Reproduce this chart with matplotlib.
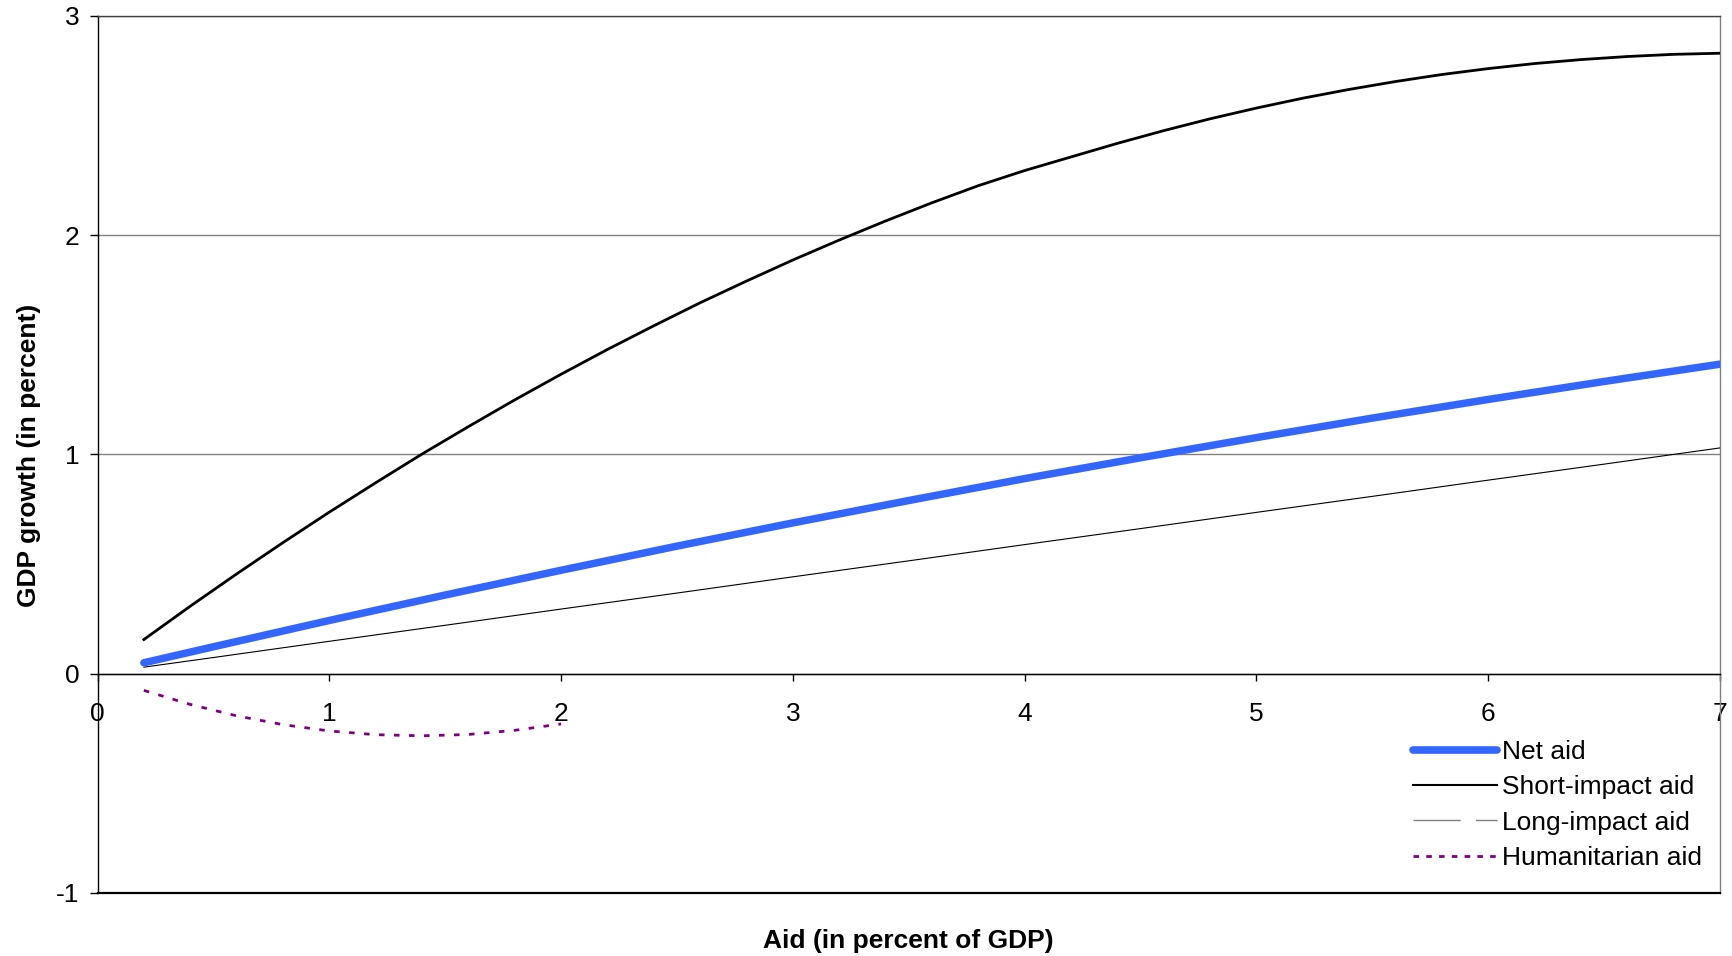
import matplotlib
matplotlib.use("Agg")
import matplotlib.pyplot as plt
from matplotlib.lines import Line2D

plt.rcParams["font.family"] = ["Liberation Sans", "DejaVu Sans"]
plt.rcParams["font.size"] = 19

# aid in percent of GDP
aid = [0.2, 0.5, 1.0, 1.5, 2.0, 2.5, 3.0, 3.5, 4.0, 4.5, 5.0, 5.5, 6.0, 6.5, 7.0]
net_aid = [0.05, 0.123, 0.243, 0.359, 0.472, 0.582, 0.688, 0.790, 0.890,
           0.985, 1.077, 1.166, 1.251, 1.333, 1.412]
long_impact = [0.03, 0.074, 0.148, 0.221, 0.295, 0.368, 0.442, 0.515, 0.589,
               0.662, 0.736, 0.809, 0.883, 0.956, 1.03]

aid_fine = [0.2, 0.4, 0.6, 0.8, 1.0, 1.2, 1.4, 1.6, 1.8, 2.0, 2.2, 2.4, 2.6,
            2.8, 3.0, 3.2, 3.4, 3.6, 3.8, 4.0, 4.2, 4.4, 4.6, 4.8, 5.0, 5.2,
            5.4, 5.6, 5.8, 6.0, 6.2, 6.4, 6.6, 6.8, 7.0]
short_impact = [0.156, 0.308, 0.455, 0.598, 0.737, 0.871, 1.002, 1.127,
                1.249, 1.366, 1.479, 1.587, 1.692, 1.791, 1.887, 1.978,
                2.065, 2.148, 2.226, 2.295, 2.357, 2.419, 2.477, 2.531,
                2.580, 2.625, 2.665, 2.701, 2.733, 2.760, 2.783, 2.801,
                2.815, 2.825, 2.830]

aid_hum = [0.2, 0.4, 0.6, 0.8, 1.0, 1.2, 1.4, 1.6, 1.8, 2.0]
humanitarian = [-0.076, -0.140, -0.192, -0.232, -0.261, -0.278, -0.283,
                -0.277, -0.258, -0.229]

x_ticks = [0, 1, 2, 3, 4, 5, 6, 7]
y_ticks = [-1, 0, 1, 2, 3]

BLUE = "#3366FF"
PURPLE = "#800080"


def main():
    fig = plt.figure(figsize=(17.32, 9.56), dpi=100)
    ax = fig.add_axes([0.0563, 0.0659, 0.9368, 0.9174])

    ax.plot(aid_fine, short_impact, color="black", lw=2.0, zorder=3)
    ax.plot(aid, long_impact, color="black", lw=0.8, zorder=3)
    ax.plot(aid_hum, humanitarian, color=PURPLE, lw=2.0,
            dashes=(2, 3.4), zorder=3)
    ax.plot(aid, net_aid, color=BLUE, lw=5.4, solid_capstyle="round",
            zorder=4)

    ax.set_xlim(0, 7)
    ax.set_ylim(-1, 3)
    ax.set_xticks(x_ticks)
    ax.set_yticks(y_ticks)
    ax.set_xticklabels([str(t) for t in x_ticks])
    ax.set_yticklabels([str(t) for t in y_ticks])

    ax.yaxis.grid(True, color="#808080", lw=1.0)
    ax.set_axisbelow(True)

    # x axis crosses at zero, frame around the plot area
    ax.spines["bottom"].set_position(("data", 0))
    ax.spines["bottom"].set_color("black")
    ax.spines["bottom"].set_linewidth(1.0)
    ax.spines["left"].set_color("black")
    ax.spines["left"].set_linewidth(1.0)
    ax.spines["top"].set_color("#404040")
    ax.spines["top"].set_linewidth(1.0)
    ax.spines["right"].set_color("#808080")
    ax.spines["right"].set_linewidth(1.0)
    ax.axhline(-1, color="black", lw=1.6, clip_on=False, zorder=5)

    ax.tick_params(axis="x", direction="out", length=5, width=1.0, pad=15.5,
                   labelsize=19)
    ax.tick_params(axis="y", direction="out", length=6, width=1.0, pad=7,
                   labelsize=19)

    fig.text(29 / 1732, 1 - 455 / 956, "GDP growth (in percent)",
             rotation=90, ha="center", va="center", fontsize=19,
             fontweight="bold")
    fig.text(908 / 1732, 1 - 941 / 956, "Aid (in percent of GDP)",
             ha="center", va="center", fontsize=19, fontweight="bold")

    handles = [
        Line2D([], [], color=BLUE, lw=5.5, solid_capstyle="round"),
        Line2D([], [], color="black", lw=1.5),
        Line2D([], [], color="#808080", lw=1.0, dashes=(34, 11)),
        Line2D([], [], color=PURPLE, lw=2.0, dashes=(2, 2.6)),
    ]
    labels = ["Net aid", "Short-impact aid", "Long-impact aid",
              "Humanitarian aid"]
    ax.legend(handles, labels, loc="upper left",
              bbox_to_anchor=(1413 / 1732, 1 - 740 / 956),
              bbox_transform=fig.transFigure, frameon=False, fontsize=19,
              handlelength=3.2, handletextpad=0.18, borderpad=0,
              borderaxespad=0, labelspacing=0.43)

    fig.savefig("out.png", dpi=100)
    plt.close(fig)


if __name__ == "__main__":
    main()
